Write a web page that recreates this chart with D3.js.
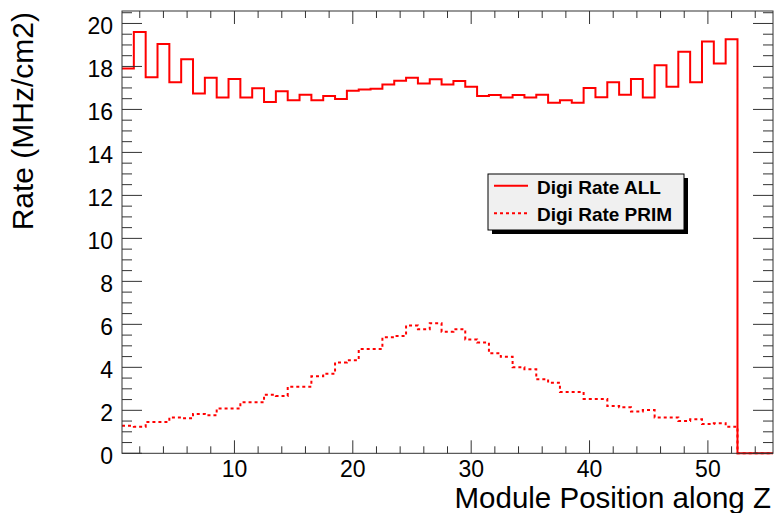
<!DOCTYPE html>
<html>
<head>
  <meta charset="utf-8">
  <title>Digi Rate</title>
  <script src="https://d3js.org/d3.v7.min.js"></script>
  <style>
    body { margin: 0; background: #fff; }
    svg text { font-family: "Liberation Sans", Arial, Helvetica, sans-serif; fill: #000; }
  </style>
</head>
<body>
<div id="chart"></div>
<script>
  // one value per module bin (1..55)
  const allRate = [
    17.9, 19.6, 17.5, 19.04, 17.27, 18.33, 16.74, 17.47, 16.56, 17.42,
    16.56, 16.99, 16.35, 16.85, 16.43, 16.68, 16.43, 16.62, 16.48, 16.87,
    16.93, 16.96, 17.16, 17.33, 17.47, 17.21, 17.41, 17.16, 17.32, 17.05,
    16.62, 16.67, 16.56, 16.67, 16.56, 16.68, 16.31, 16.43, 16.31, 17.0,
    16.57, 17.27, 16.68, 17.42, 16.56, 18.06, 17.05, 18.68, 17.27, 19.16,
    18.14, 19.27, 0, 0, 0
  ];
  const primRate = [
    1.28, 1.24, 1.46, 1.46, 1.67, 1.63, 1.83, 1.77, 2.09, 2.09,
    2.37, 2.37, 2.73, 2.67, 3.1, 3.1, 3.58, 3.7, 4.23, 4.33,
    4.85, 4.85, 5.4, 5.46, 5.95, 5.77, 6.05, 5.66, 5.77, 5.3,
    5.15, 4.65, 4.49, 4.0, 3.91, 3.44, 3.28, 2.85, 2.85, 2.53,
    2.53, 2.2, 2.14, 1.95, 2.01, 1.67, 1.67, 1.5, 1.58, 1.36,
    1.4, 1.24, 0, 0, 0
  ];
  const xTickLabels = [10, 20, 30, 40, 50];
  const yTickLabels = [0, 2, 4, 6, 8, 10, 12, 14, 16, 18, 20];
  const legendLabels = ["Digi Rate ALL", "Digi Rate PRIM"];

  const width = 777, height = 513;
  const frame = { left: 122, right: 773, top: 11, bottom: 453.3 };

  const svg = d3.select("#chart").append("svg")
    .attr("width", width)
    .attr("height", height);

  svg.append("rect").attr("width", width).attr("height", height).attr("fill", "#fff");

  const x = d3.scaleLinear().domain([0.5, 55.5]).range([frame.left, frame.right]);
  const yMax = d3.max(allRate) * 1.05;
  const y = d3.scaleLinear().domain([0, yMax]).range([frame.bottom, frame.top]);

  // histogram outline: each bin gives its two edges at the same height
  const steps = vals => vals.flatMap((v, i) => [[i + 0.5, v], [i + 1.5, v]]);
  const line = d3.line().x(d => x(d[0])).y(d => y(d[1]));

  const plot = svg.append("g");
  plot.append("path")
    .attr("d", line(steps(primRate)))
    .attr("fill", "none")
    .attr("stroke", "#ff0000")
    .attr("stroke-width", 2)
    .attr("stroke-dasharray", "3,3");

  plot.append("path")
    .attr("d", line(steps(allRate)))
    .attr("fill", "none")
    .attr("stroke", "#ff0000")
    .attr("stroke-width", 2);

  // frame + ticks on all four sides
  const axisColor = "#333";
  const ax = svg.append("g").attr("stroke", axisColor).attr("stroke-width", 1);
  ax.append("rect")
    .attr("x", frame.left).attr("y", frame.top)
    .attr("width", frame.right - frame.left)
    .attr("height", frame.bottom - frame.top)
    .attr("fill", "none");

  const xTicks = d3.range(2, 56, 2);
  xTicks.forEach(t => {
    const len = t % 10 === 0 ? 13 : 7;
    ax.append("line").attr("x1", x(t)).attr("x2", x(t))
      .attr("y1", frame.bottom).attr("y2", frame.bottom - len);
    ax.append("line").attr("x1", x(t)).attr("x2", x(t))
      .attr("y1", frame.top).attr("y2", frame.top + len);
  });

  const yTicks = d3.range(0, yMax, 0.5);
  yTicks.forEach(t => {
    const len = t % 2 === 0 ? 20 : 10;
    ax.append("line").attr("y1", y(t)).attr("y2", y(t))
      .attr("x1", frame.left).attr("x2", frame.left + len);
    ax.append("line").attr("y1", y(t)).attr("y2", y(t))
      .attr("x1", frame.right).attr("x2", frame.right - len);
  });

  // tick labels
  svg.append("g").selectAll("text").data(xTickLabels).join("text")
    .attr("x", d => x(d))
    .attr("y", 476.5)
    .attr("text-anchor", "middle")
    .style("font-size", "23px")
    .text(d => d);

  svg.append("g").selectAll("text").data(yTickLabels).join("text")
    .attr("x", 113)
    .attr("y", d => y(d) + 10.5)
    .attr("text-anchor", "end")
    .style("font-size", "23px")
    .text(d => d);

  // axis titles
  svg.append("text")
    .attr("x", 771).attr("y", 508)
    .attr("text-anchor", "end")
    .style("font-size", "29.5px")
    .text("Module Position along Z");

  svg.append("text")
    .attr("transform", "translate(33,12) rotate(-90)")
    .attr("text-anchor", "end")
    .style("font-size", "30px")
    .text("Rate (MHz/cm2)");

  // legend with drop shadow
  const lg = svg.append("g");
  lg.append("rect").attr("x", 492).attr("y", 178).attr("width", 196).attr("height", 56).attr("fill", "#000");
  lg.append("rect").attr("x", 488).attr("y", 174).attr("width", 196).attr("height", 56)
    .attr("fill", "#f0f0f0").attr("stroke", "#000").attr("stroke-width", 1);

  const rows = [185.7, 213.3];
  legendLabels.forEach((lab, i) => {
    lg.append("line")
      .attr("x1", 494).attr("x2", 528)
      .attr("y1", rows[i]).attr("y2", rows[i])
      .attr("stroke", "#ff0000").attr("stroke-width", 2)
      .attr("stroke-dasharray", i === 1 ? "3,3" : null);
    lg.append("text")
      .attr("x", 537).attr("y", rows[i] + 8)
      .style("font-size", "19px")
      .style("font-weight", "bold")
      .text(lab);
  });
</script>
</body>
</html>
